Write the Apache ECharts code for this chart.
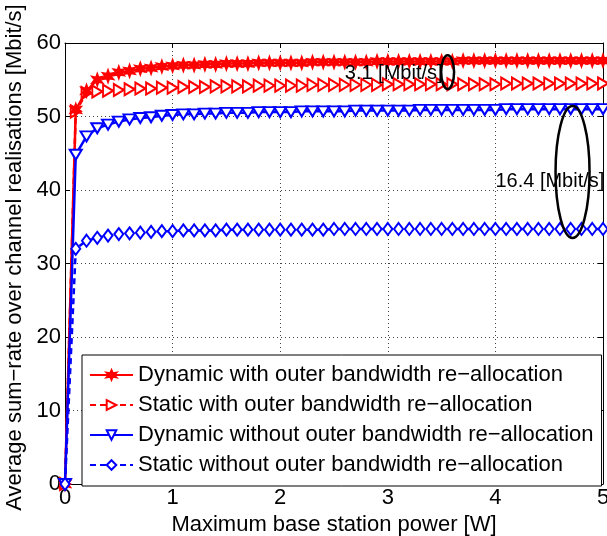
<!DOCTYPE html>
<html>
<head>
<meta charset="utf-8">
<script src="https://cdn.jsdelivr.net/npm/echarts@6/dist/echarts.min.js"></script>
<style>
html,body{margin:0;padding:0;background:#fff;}
#chart{width:607px;height:536px;}
</style>
</head>
<body>
<div id="chart"></div>
<script>
const powerW = [0,0.1,0.2,0.3,0.4,0.5,0.6,0.7,0.8,0.9,1.0,1.1,1.2,1.3,1.4,1.5,1.6,1.7,1.8,1.9,2.0,2.1,2.2,2.3,2.4,2.5,2.6,2.7,2.8,2.9,3.0,3.1,3.2,3.3,3.4,3.5,3.6,3.7,3.8,3.9,4.0,4.1,4.2,4.3,4.4,4.5,4.6,4.7,4.8,4.9,5.0];

const dynWith = [0,50.9,53.5,55.0,55.5,56.0,56.2,56.5,56.6,56.8,56.9,57.0,57.0,57.1,57.1,57.2,57.2,57.2,57.3,57.3,57.3,57.3,57.3,57.4,57.4,57.4,57.4,57.4,57.4,57.5,57.5,57.5,57.5,57.5,57.5,57.5,57.5,57.6,57.6,57.6,57.6,57.6,57.6,57.6,57.6,57.6,57.6,57.6,57.6,57.6,57.6];
const staWith = [0,50.7,53.2,53.4,53.5,53.6,53.7,53.8,53.8,53.9,53.9,54.0,54.0,54.0,54.1,54.1,54.1,54.1,54.2,54.2,54.2,54.2,54.2,54.3,54.3,54.3,54.3,54.3,54.3,54.3,54.4,54.4,54.4,54.4,54.4,54.4,54.4,54.4,54.4,54.4,54.4,54.5,54.5,54.5,54.5,54.5,54.5,54.5,54.5,54.5,54.5];
const dynWithout = [0,44.8,47.3,48.4,48.9,49.3,49.6,49.8,49.9,50.1,50.2,50.3,50.3,50.4,50.4,50.5,50.5,50.5,50.6,50.6,50.6,50.6,50.7,50.7,50.7,50.7,50.7,50.8,50.8,50.8,50.8,50.8,50.8,50.9,50.9,50.9,50.9,50.9,50.9,50.9,50.9,51.0,51.0,51.0,51.0,51.0,51.0,51.0,51.0,51.0,51.0];
const staWithout = [0,32.0,33.1,33.5,33.8,34.0,34.1,34.2,34.3,34.4,34.4,34.5,34.5,34.5,34.5,34.6,34.6,34.6,34.6,34.6,34.6,34.6,34.6,34.6,34.6,34.7,34.7,34.7,34.7,34.7,34.7,34.7,34.7,34.7,34.7,34.7,34.7,34.7,34.7,34.7,34.7,34.7,34.7,34.7,34.7,34.7,34.7,34.7,34.7,34.7,34.7];

const seriesNames = [
  'Dynamic with outer bandwidth re\u2212allocation',
  'Static with outer bandwidth re\u2212allocation',
  'Dynamic without outer bandwidth re\u2212allocation',
  'Static without outer bandwidth re\u2212allocation'
];
const xTicks = [0,1,2,3,4,5];
const yTicks = [0,10,20,30,40,50,60];
const annoTexts = ['3.1 [Mbit/s]', '16.4 [Mbit/s]'];

const FONT = 'Liberation Sans, Arial, Helvetica, sans-serif';
const starPath = 'path://M0,-10 L2.25,-3.9 L8.66,-5 L4.5,0 L8.66,5 L2.25,3.9 L0,10 L-2.25,3.9 L-8.66,5 L-4.5,0 L-8.66,-5 L-2.25,-3.9 Z';

function pairs(ys){ return powerW.map((x,i)=>[x, ys[i]]); }

const chart = echarts.init(document.getElementById('chart'), null, {renderer:'canvas'});

const baseX = {type:'value', min:xTicks[0], max:xTicks[xTicks.length-1], interval:1};
const baseY = {type:'value', min:yTicks[0], max:yTicks[yTicks.length-1], interval:10};
const frameLine = {show:true, onZero:false, lineStyle:{color:'#000', width:1}};
const frameTick = {show:true, inside:true, length:5, lineStyle:{color:'#000'}};

const option = {
  backgroundColor:'#fff',
  animation:false,
  grid:{left:65, right:4, top:43, bottom:52, containLabel:false, outerBoundsMode:'none'},
  xAxis:[
    Object.assign({}, baseX, {
      position:'bottom',
      name:'Maximum base station power [W]', nameLocation:'middle', nameGap:28,
      nameTextStyle:{fontFamily:FONT, fontSize:22, color:'#000'},
      axisLine:frameLine, axisTick:frameTick,
      axisLabel:{fontFamily:FONT, fontSize:22, color:'#000', margin:3},
      splitLine:{show:true, lineStyle:{color:'#444', type:[1,3], width:1}}
    }),
    Object.assign({}, baseX, {
      position:'top',
      axisLine:frameLine, axisTick:frameTick,
      axisLabel:{show:false}, splitLine:{show:false}
    })
  ],
  yAxis:[
    Object.assign({}, baseY, {
      position:'left',
      name:'Average sum\u2212rate over channel realisations [Mbit/s]', nameLocation:'middle', nameGap:38,
      nameTextStyle:{fontFamily:FONT, fontSize:22, color:'#000', padding:[0,0,0,12]},
      axisLine:frameLine, axisTick:frameTick,
      axisLabel:{fontFamily:FONT, fontSize:22, color:'#000', margin:4},
      splitLine:{show:true, lineStyle:{color:'#444', type:[1,3], width:1}}
    }),
    Object.assign({}, baseY, {
      position:'right',
      axisLine:frameLine, axisTick:frameTick,
      axisLabel:{show:false}, splitLine:{show:false}
    })
  ],
  legend:{
    orient:'vertical', left:82, top:355,
    backgroundColor:'#fff', borderColor:'#000', borderWidth:1,
    padding:[9,8,10,7],
    itemWidth:43, itemHeight:12, itemGap:8,
    textStyle:{fontFamily:FONT, fontSize:22, lineHeight:22, color:'#000'},
    data:seriesNames
  },
  series:[
    {
      name:seriesNames[0], type:'line', data:pairs(dynWith),
      symbol:starPath, symbolSize:[11,13],
      lineStyle:{color:'#ff0000', width:2.5, type:'solid'},
      itemStyle:{color:'#ff0000', borderColor:'#ff0000', borderWidth:1.5},
      z:4
    },
    {
      name:seriesNames[1], type:'line', data:pairs(staWith),
      symbol:'triangle', symbolRotate:-90, symbolSize:[12,10],
      lineStyle:{color:'#ff0000', width:2.5, type:[6,4]},
      itemStyle:{color:'#ffffff', borderColor:'#ff0000', borderWidth:2},
      z:3
    },
    {
      name:seriesNames[2], type:'line', data:pairs(dynWithout),
      symbol:'triangle', symbolRotate:180, symbolSize:[12,10],
      lineStyle:{color:'#0000ff', width:2.5, type:'solid'},
      itemStyle:{color:'#ffffff', borderColor:'#0000ff', borderWidth:2},
      z:5
    },
    {
      name:seriesNames[3], type:'line', data:pairs(staWithout),
      symbol:'diamond', symbolSize:[9,12],
      lineStyle:{color:'#0000ff', width:2.5, type:[6,4]},
      itemStyle:{color:'#ffffff', borderColor:'#0000ff', borderWidth:2},
      z:6
    }
  ]
};
chart.setOption(option);

// Annotations placed in data coordinates
function px(x,y){ return chart.convertToPixel({xAxisIndex:0, yAxisIndex:0}, [x,y]); }
function ellipse(cx, cy, rxData, ryData){
  const c = px(cx, cy);
  const e = px(cx + rxData, cy + ryData);
  return {type:'ellipse', shape:{cx:c[0], cy:c[1], rx:Math.abs(e[0]-c[0]), ry:Math.abs(e[1]-c[1])},
          style:{fill:null, stroke:'#000', lineWidth:2.5}, z:100};
}
function label(x, y, txt){
  const p = px(x, y);
  return {type:'text', x:p[0], y:p[1], style:{text:txt, fill:'#000', font:'20px ' + FONT, verticalAlign:'middle'}, z:100};
}
chart.setOption({
  graphic:[
    label(2.60, 55.9, annoTexts[0]),
    ellipse(3.556, 56.05, 0.06, 2.3),
    label(4.00, 41.1, annoTexts[1]),
    ellipse(4.717, 42.45, 0.158, 8.98)
  ]
});
</script>
</body>
</html>
